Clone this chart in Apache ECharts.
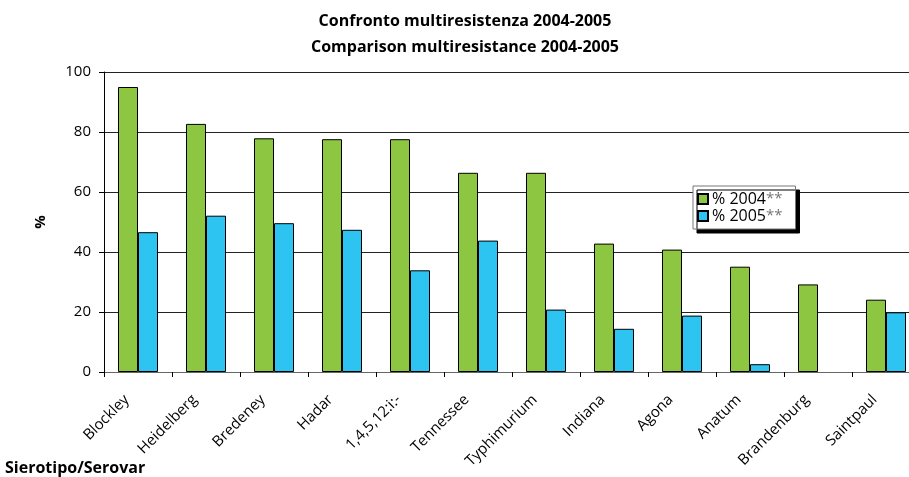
<!DOCTYPE html>
<html>
<head>
<meta charset="utf-8">
<script src="https://cdn.jsdelivr.net/npm/echarts@6/dist/echarts.min.js"></script>
<style>
  html, body { margin: 0; padding: 0; background: #fff; }
  #chart { width: 909px; height: 477px; }
</style>
</head>
<body>
<div id="chart"></div>
<script>
// Serotypes along the x axis
var categories = ['Blockley', 'Heidelberg', 'Bredeney', 'Hadar', '1,4,5,12:i:-', 'Tennessee',
  'Typhimurium', 'Indiana', 'Agona', 'Anatum', 'Brandenburg', 'Saintpaul'];
// Multiresistance share (%) per year
var values2004 = [95, 82.7, 77.9, 77.6, 77.6, 66.4, 66.4, 42.8, 40.8, 35.1, 29.2, 24.1];
var values2005 = [46.6, 52.1, 49.6, 47.4, 33.9, 43.8, 20.8, 14.4, 18.8, 2.6, null, 19.9];
var seriesNames = ['% 2004**', '% 2005**'];
var yTicks = [0, 20, 40, 60, 80, 100];

var FONT = '"Open Sans", "DejaVu Sans", sans-serif';
var chart = echarts.init(document.getElementById('chart'), null, { renderer: 'canvas' });

chart.setOption({
  animation: false,
  backgroundColor: '#fff',
  textStyle: { fontFamily: FONT },
  title: {
    text: 'Confronto multiresistenza 2004-2005\nComparison multiresistance 2004-2005',
    left: 460,
    top: 3,
    textAlign: 'center',
    textStyle: { fontFamily: FONT, fontSize: 16, fontWeight: 'bold', color: '#000', lineHeight: 26 }
  },
  legend: {
    data: seriesNames,
    orient: 'vertical',
    left: 693,
    top: 186,
    padding: [5, 13, 5, 4],
    itemGap: 1,
    itemWidth: 10,
    itemHeight: 10,
    icon: 'rect',
    backgroundColor: '#fff',
    borderColor: '#777',
    borderWidth: 1,
    shadowColor: '#000',
    shadowBlur: 0,
    shadowOffsetX: 4,
    shadowOffsetY: 4,
    formatter: function (name) {
      return name.replace('**', '') + '{s|**}';
    },
    textStyle: {
      fontFamily: FONT, fontSize: 16, color: '#000', padding: [0, 0, 0, -1],
      rich: { s: { fontFamily: FONT, fontSize: 15, color: '#777' } }
    }
  },
  // the plot area runs slightly past the right edge of the canvas
  grid: { left: 104, top: 72, width: 816, bottom: 105, containLabel: false, outerBoundsMode: 'none' },
  xAxis: {
    type: 'category',
    data: categories,
    axisLine: { show: true, lineStyle: { color: '#666', width: 1 } },
    axisTick: { show: true, length: 5, lineStyle: { color: '#000' } },
    axisLabel: {
      rotate: 45, interval: 0, margin: 14, padding: [0, 16, 0, 0],
      fontFamily: FONT, fontSize: 15, color: '#000'
    }
  },
  yAxis: {
    type: 'value',
    min: yTicks[0],
    max: yTicks[yTicks.length - 1],
    interval: 20,
    name: '%',
    nameLocation: 'middle',
    nameRotate: 90,
    nameGap: 56,
    nameTextStyle: { fontFamily: FONT, fontSize: 15, color: '#000', fontWeight: 'bold' },
    axisLine: { show: true, lineStyle: { color: '#000', width: 1 } },
    axisTick: { show: true, length: 5, lineStyle: { color: '#000' } },
    axisLabel: { margin: 13, fontFamily: FONT, fontSize: 15, color: '#000' },
    splitLine: { show: true, lineStyle: { color: '#222', width: 1 } }
  },
  series: [
    {
      name: seriesNames[0],
      type: 'bar',
      data: values2004,
      barWidth: 20,
      barGap: '0%',
      itemStyle: { color: '#8DC641', borderColor: '#000', borderWidth: 1 }
    },
    {
      name: seriesNames[1],
      type: 'bar',
      data: values2005,
      barWidth: 20,
      barGap: '0%',
      itemStyle: { color: '#2EC4F2', borderColor: '#000', borderWidth: 1 }
    }
  ],
  graphic: [
    {
      type: 'text',
      left: 5,
      top: 460,
      style: { text: 'Sierotipo/Serovar', fontFamily: FONT, fontSize: 16, fontWeight: 'bold', fill: '#000' }
    }
  ]
});
</script>
</body>
</html>
